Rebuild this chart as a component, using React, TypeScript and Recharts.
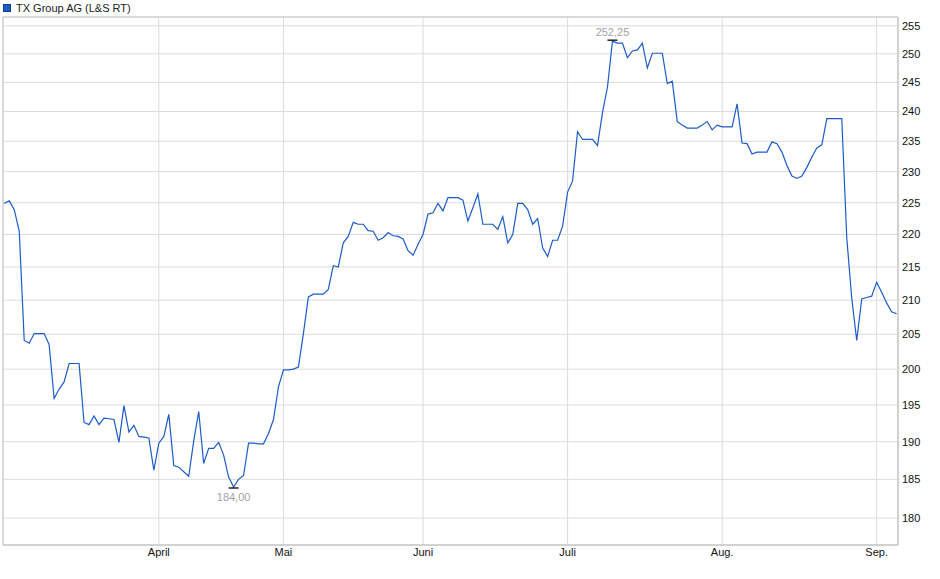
import { LineChart, Line, XAxis, YAxis, CartesianGrid, ReferenceArea } from 'recharts'

// closing prices, one per trading day (index 0 = first day shown)
const PRICES = [
  224.9, 225.3, 223.9, 220.5, 204.1, 203.7, 205.1, 205.1, 205.1, 203.5,
  195.9, 197.2, 198.2, 200.8, 200.8, 200.8, 192.6, 192.3, 193.5, 192.3,
  193.2, 193.1, 193.0, 189.9, 194.9, 191.3, 192.2, 190.7, 190.6, 190.5,
  186.2, 189.8, 190.7, 193.7, 186.8, 186.6, 186.0, 185.4, 190.1, 194.1,
  187.1, 189.1, 189.1, 189.9, 188.2, 185.3, 184.0, 185.0, 185.5, 189.8,
  189.8, 189.7, 189.7, 191.1, 193.0, 197.5, 199.9, 199.9, 200.0, 200.3,
  205.1, 210.5, 210.9, 210.9, 210.9, 211.6, 215.2, 215.0, 218.7, 219.7,
  221.9, 221.6, 221.6, 220.6, 220.5, 219.1, 219.5, 220.3, 219.8, 219.7,
  219.3, 217.5, 216.8, 218.5, 220.0, 223.2, 223.4, 224.9, 223.7, 225.8,
  225.8, 225.8, 225.4, 222.1, 224.2, 226.4, 221.6, 221.6, 221.6, 220.8,
  222.8, 218.7, 220.0, 224.9, 224.9, 223.9, 221.6, 222.5, 217.9, 216.6,
  219.1, 219.1, 221.3, 226.7, 228.5, 236.6, 235.3, 235.3, 235.3, 234.3,
  239.8, 244.2, 252.25, 251.9, 251.9, 249.3, 250.5, 250.7, 251.9, 247.5,
  250.1, 250.1, 250.1, 244.8, 245.2, 238.3, 237.7, 237.2, 237.2, 237.2,
  237.7, 238.3, 236.9, 237.7, 237.4, 237.4, 237.4, 241.3, 234.7, 234.6,
  232.9, 233.2, 233.2, 233.2, 234.9, 234.6, 233.2, 231.0, 229.3, 228.9,
  229.3, 230.7, 232.4, 233.9, 234.4, 238.8, 238.8, 238.8, 238.8, 219.5,
  210.3, 204.1, 210.2, 210.4, 210.6, 212.7, 211.2, 209.6, 208.3, 208.0,
]

// first trading day of each month
const MONTH_START = [31, 56, 84, 113, 144, 175]
const MONTH_LABELS = ['April', 'Mai', 'Juni', 'Juli', 'Aug.', 'Sep.']

const PRICE_TICKS = [180, 185, 190, 195, 200, 205, 210, 215, 220, 225, 230, 235, 240, 245, 250, 255]

const SERIES_NAME = 'TX Group AG (L&S RT)'

const LINE_COLOR = '#1c5cc8'
const FONT = '"Liberation Sans", Arial, sans-serif'

const X_DOMAIN = [-0.26, 179.28]
const Y_DOMAIN = [176.6, 256.6]

const data = PRICES.map((p, i) => ({ i, p }))

const maxIdx = PRICES.indexOf(Math.max(...PRICES))
const minIdx = PRICES.indexOf(Math.min(...PRICES))

const fmt = (v: number) => v.toFixed(2).replace('.', ',')

function ExtremeDot(props: any) {
  const { cx, cy, index, value } = props
  if (index !== maxIdx && index !== minIdx) return <g key={`d-${index}`} />
  const isMax = index === maxIdx
  return (
    <g key={`d-${index}`}>
      <line
        x1={cx - 5}
        x2={cx + 5}
        y1={isMax ? cy - 1 : cy + 1}
        y2={isMax ? cy - 1 : cy + 1}
        stroke="#000"
        strokeWidth={1.3}
      />
      <text
        x={cx}
        y={isMax ? cy - 5 : cy + 14}
        textAnchor="middle"
        fontSize={11}
        fill="#a3a3a3"
        fontFamily={FONT}
      >
        {fmt(Array.isArray(value) ? value[1] : value)}
      </text>
    </g>
  )
}

export default function App() {
  return (
    <div style={{ position: 'absolute', left: 0, top: 0, width: 940, height: 579, fontFamily: FONT }}>
      <div style={{ position: 'absolute', left: 3, top: 4, display: 'flex', alignItems: 'center', fontSize: 11, color: '#222' }}>
        <span
          style={{
            display: 'inline-block',
            width: 6,
            height: 6,
            background: LINE_COLOR,
            border: '1px solid #143f8a',
            marginRight: 5,
          }}
        />
        <span style={{ lineHeight: '8px' }}>{SERIES_NAME}</span>
      </div>
      <LineChart width={940} height={579} data={data} margin={{ top: 17, right: 0, left: 3, bottom: 0 }}>
        <CartesianGrid stroke="#dcdcdc" strokeWidth={1} />
        <XAxis
          type="number"
          dataKey="i"
          domain={X_DOMAIN}
          allowDataOverflow
          ticks={MONTH_START}
          tickFormatter={(v) => MONTH_LABELS[MONTH_START.indexOf(v)] ?? ''}
          height={34}
          axisLine={{ stroke: '#c8c8c8' }}
          tickLine={false}
          tickSize={0}
          tickMargin={3}
          tick={{ fontSize: 11, fill: '#111', fontFamily: FONT }}
          interval={0}
        />
        <YAxis
          orientation="right"
          scale="log"
          domain={Y_DOMAIN}
          allowDataOverflow
          ticks={PRICE_TICKS}
          width={42}
          axisLine={{ stroke: '#c8c8c8' }}
          tickLine={{ stroke: '#dcdcdc' }}
          tickSize={2}
          tickMargin={2}
          tick={{ fontSize: 11, fill: '#111', fontFamily: FONT }}
          interval={0}
        />
        <ReferenceArea
          x1={X_DOMAIN[0]}
          x2={X_DOMAIN[1]}
          y1={Y_DOMAIN[0]}
          y2={Y_DOMAIN[1]}
          fill="none"
          stroke="#c8c8c8"
          strokeOpacity={1}
          fillOpacity={0}
        />
        <Line
          type="linear"
          dataKey="p"
          stroke={LINE_COLOR}
          strokeWidth={1.2}
          dot={ExtremeDot}
          activeDot={false}
          isAnimationActive={false}
        />
      </LineChart>
    </div>
  )
}
